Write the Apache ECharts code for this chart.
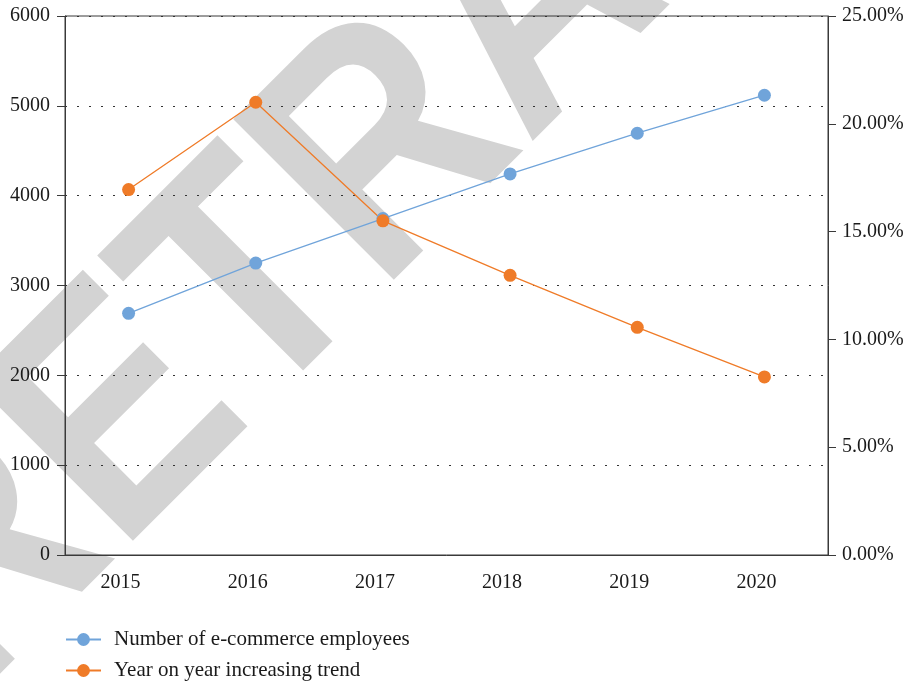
<!DOCTYPE html>
<html>
<head>
<meta charset="utf-8">
<script src="https://cdn.jsdelivr.net/npm/echarts@6/dist/echarts.min.js"></script>
<style>html,body{margin:0;padding:0;background:#fff;}#chart{width:904px;height:684px;}</style>
</head>
<body>
<div id="chart"></div>
<script>
const years = ['2015', '2016', '2017', '2018', '2019', '2020'];
const employees = [2690, 3250, 3745, 4242, 4695, 5118];
const yoyTrend = [0.1695, 0.2100, 0.1550, 0.1297, 0.1056, 0.0826];
const leftTicks = [0, 1000, 2000, 3000, 4000, 5000, 6000];
const rightTicks = [0, 0.05, 0.10, 0.15, 0.20, 0.25];
const seriesNames = ['Number of e-commerce employees', 'Year on year increasing trend'];

const FONT = '"Liberation Serif", "DejaVu Serif", serif';
const AXIS = '#3a3a3a';
const TXT = '#1a1a1a';
const legendBase = {
  orient: 'vertical', left: 65, padding: 0, itemWidth: 35, itemHeight: 16,
  textStyle: { fontFamily: FONT, fontSize: 21, color: TXT, padding: [0, 0, 0, 8] }
};
const chart = echarts.init(document.getElementById('chart'));
chart.setOption({
  animation: false,
  backgroundColor: '#fff',
  graphic: [{
    type: 'text',
    x: 537, y: 8,
    rotation: Math.PI / 4,
    scaleX: 0.875, scaleY: 1,
    z: -10,
    silent: true,
    style: {
      text: 'RETRACTED',
      fontSize: 330,
      fontWeight: 'bold',
      fontFamily: '"Liberation Sans", Arial, sans-serif',
      fill: '#d3d3d3',
      align: 'center', verticalAlign: 'middle',
      textAlign: 'center', textVerticalAlign: 'middle'
    }
  }],
  grid: {
    left: 65, right: 76, top: 16, bottom: 129,
    containLabel: false, outerBoundsMode: 'none',
    show: true, borderColor: AXIS, borderWidth: 1, backgroundColor: 'transparent'
  },
  legend: [
    Object.assign({}, legendBase, { top: 629, data: [seriesNames[0]] }),
    Object.assign({}, legendBase, { top: 660, data: [seriesNames[1]] })
  ],
  xAxis: {
    type: 'category', data: years, boundaryGap: true,
    axisLine: { lineStyle: { color: AXIS, width: 1 } },
    axisTick: { alignWithLabel: true, length: 7, lineStyle: { color: AXIS } },
    axisLabel: { fontFamily: FONT, fontSize: 20, color: TXT, margin: 18, padding: [0, 16, 0, 0] },
    splitLine: { show: false }
  },
  yAxis: [{
    type: 'value', min: leftTicks[0], max: leftTicks[leftTicks.length - 1], interval: leftTicks[1] - leftTicks[0],
    axisLine: { show: true, lineStyle: { color: AXIS } },
    axisTick: { show: true, length: 8, lineStyle: { color: AXIS } },
    axisLabel: { fontFamily: FONT, fontSize: 20, color: TXT, margin: 15, formatter: v => String(v) },
    splitLine: { show: true, lineStyle: { color: '#333', type: [2, 10], width: 1 } }
  }, {
    type: 'value', position: 'right', min: rightTicks[0], max: rightTicks[rightTicks.length - 1], interval: rightTicks[1] - rightTicks[0],
    axisLine: { show: true, lineStyle: { color: AXIS } },
    axisTick: { show: true, length: 8, lineStyle: { color: AXIS } },
    axisLabel: { fontFamily: FONT, fontSize: 20, color: TXT, margin: 14, formatter: v => (v * 100).toFixed(2) + '%' },
    splitLine: { show: false }
  }],
  series: [{
    name: seriesNames[0], type: 'line', yAxisIndex: 0, data: employees,
    symbol: 'circle', symbolSize: 13,
    itemStyle: { color: '#70a4da' }, lineStyle: { color: '#70a4da', width: 1.3 }
  }, {
    name: seriesNames[1], type: 'line', yAxisIndex: 1, data: yoyTrend,
    symbol: 'circle', symbolSize: 13,
    itemStyle: { color: '#ef7b28' }, lineStyle: { color: '#ef7b28', width: 1.3 }
  }]
});
</script>
</body>
</html>
